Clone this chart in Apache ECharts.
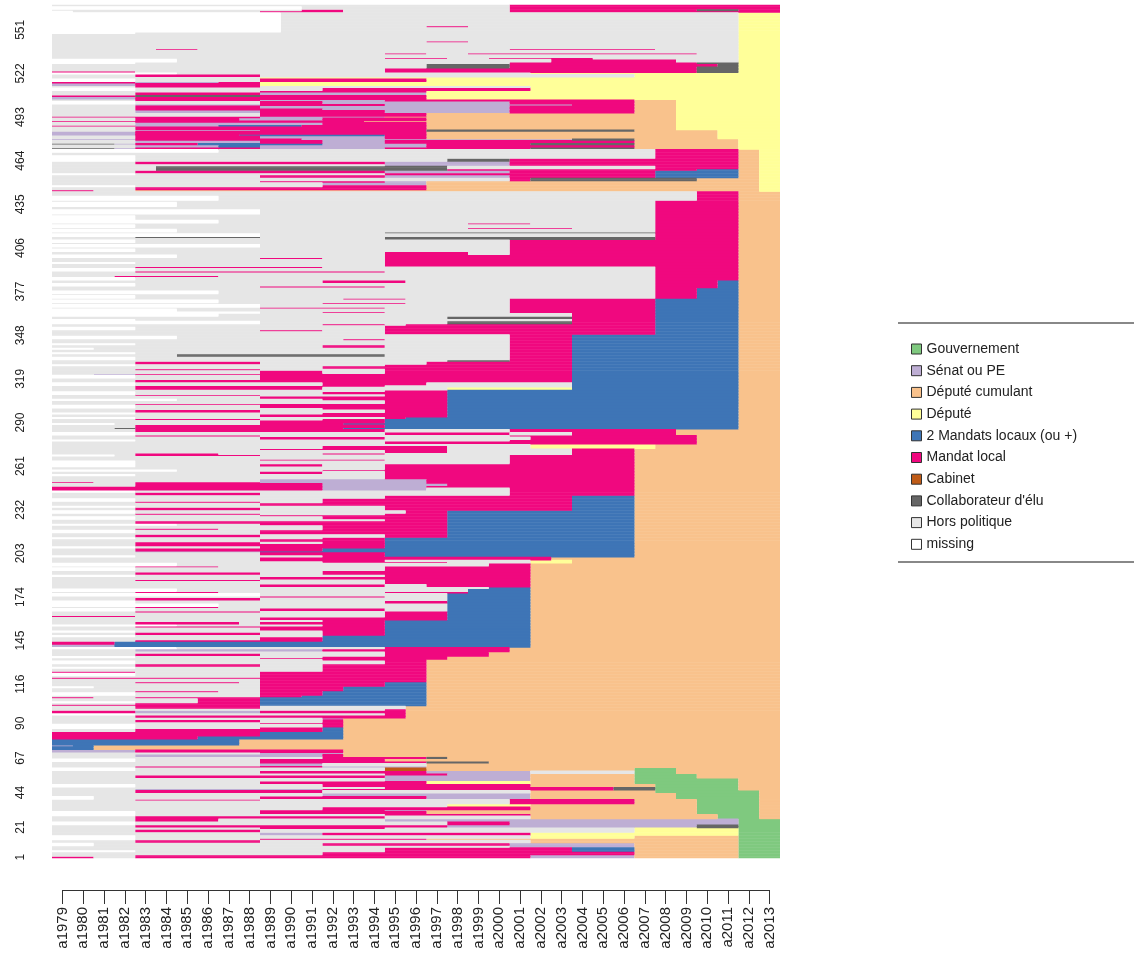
<!DOCTYPE html>
<html>
<head>
<meta charset="utf-8">
<script src="https://cdn.jsdelivr.net/npm/echarts@6/dist/echarts.min.js"></script>
<style>
html,body{margin:0;padding:0;background:#fff;}
#chart{width:1134px;height:977px;}
</style>
</head>
<body>
<div id="chart"></div>
<script>
// ---------------- DATA ----------------
const years = ['a1979','a1980','a1981','a1982','a1983','a1984','a1985','a1986','a1987','a1988','a1989','a1990','a1991','a1992','a1993','a1994','a1995','a1996','a1997','a1998','a1999','a2000','a2001','a2002','a2003','a2004','a2005','a2006','a2007','a2008','a2009','a2010','a2011','a2012','a2013'];
const stateCodes = ['G','S','C','D','B','M','K','E','H','x'];
const stateLabels = ['Gouvernement','Sénat ou PE','Député cumulant','Député','2 Mandats locaux (ou +)','Mandat local','Cabinet',"Collaborateur d'élu",'Hors politique','missing'];
const stateColors = ['#7FC97F','#BEAED4','#F9C28C','#FFFF99','#3E75B6','#F0087F','#BF5B17','#666666','#E6E6E6','#FFFFFF'];
const yTickLabels = [1,21,44,67,90,116,145,174,203,232,261,290,319,348,377,406,435,464,493,522,551];

// Each entry: "<number of sequences> <state><first year index> ..."
const seqGouvernement = [
"1 M0 H2 M4 S23 C28 G33","1 H0 M4 S23 C28 G33","2 H0 M13 C28 G33","1 x0 H4 M16 B25 C28 G33",
"2 H0 M16 B25 C28 G33","1 H0 S22 C28 G33","2 x0 H2 M13 S22 C28 G33","2 H0 M4 H10 C23 G33",
"1 x0 H4 M10 C18 G33","2 x0 H4 D23 C28 G33","2 H0 S10 M13 D23 G33","2 H0 M4 H10 D28 G33",
"1 H0 M10 H16 D28 G33","2 H0 M4 S19 E31 G33","2 x0 H4 M19 S22 G33","2 H0 M4 H8 S16 G33"
];
const seqCumulant = [
"2 H0 M4 H16 C23 G32 C34","1 x0 H4 M16 C23 G32 C34","2 x0 H4 M10 C18 G31 C34","1 H0 M10 S16 C18 G31 C34",
"2 H0 M13 C23 G31 C34","2 H0 D19 C23 G31 C34","2 H0 M22 C28 G31 C34","1 H0 M4 H10 M22 C28 G31 C34",
"2 x0 H2 M10 S18 C23 G30 C34","2 H0 S13 C23 G30 C34","2 H0 M4 H13 C23 G29 C34","1 H0 S4 M13 E27 G29 C33",
"1 H0 M16 E27 G29 C33","2 x0 H4 M13 C23 G29 C33","2 H0 M10 D18 C23 G28 C33","2 H0 S16 C23 G28 C33",
"2 H0 M4 S16 C23 G28 C31","1 H0 M16 S19 C23 G28 C31","2 H0 M10 S18 H23 G28 C30","2 x0 H4 K16 C18 G28 C30",
"1 H0 M4 S13 C18","2 H0 S10 H13 C18","1 H0 M10 E18 C21","2 x0 H4 M10 C16",
"1 H0 M13 E18 C19","2 H0 S4 M13 C14","1 H0 S10 C14","2 S0 M4 C14",
"2 B0 C2","1 S0 B1 C2","4 B0 C9","2 M0 B7 C14","3 M0 B10 C14",
"2 H0 M4 B13 C14","1 x0 H4 M10 B13 C14","2 x0 H4 M13 C14","1 H0 M10 C14",
"2 H0 M4 H10 M13 C14","1 H0 S13 C14","2 H0 M4 C17","1 x0 H4 M16 C17",
"2 M0 S4 M10 C17","1 H0 M16 C17","2 H0 M4 H10 C17",
"1 M0 B10 C18","1 H0 M4 B10 C18","1 x0 H4 M7 B10 C18","2 H0 M7 B10 C18",
"1 M0 H2 M4 B10 C18","1 H0 M10 B12 C18","2 x0 H4 M10 B13 C18","1 H0 M4 H8 M10 B13 C18",
"2 H0 M10 B14 C18","1 x0 H2 M10 B14 C18","2 H0 M10 B16 C18","1 H0 M4 H9 M10 B16 C18",
"2 H0 M10 C18","1 M0 C18","1 H0 M10 C18","2 x0 H4 M10 C18",
"1 M0 H4 M10 C18","2 H0 M13 C18","1 x0 H4 M13 C18","2 H0 M4 H10 M13 C18",
"2 x0 H4 M16 C18","1 H0 M13 C18",
"1 H0 M10 C19","1 x0 H4 M13 C19","2 H0 M4 H10 M16 C21","1 H0 M16 C21",
"2 H0 S4 M13 C22","1 x0 H6 M16 C22",
"2 S0 B3 C23","2 M0 B3 C23","1 H0 M4 B13 C23","2 H0 M10 B13 C23",
"1 x0 H4 B13 C23","2 H0 M4 H10 M13 B16 C23","1 x0 H4 M13 B16 C23","2 H0 M10 B16 C23",
"1 H0 M4 B16 C23","1 x0 H6 M13 B16 C23","2 H0 M4 H9 M10 B16 C23","1 H0 M13 B16 C23",
"2 H0 M10 B19 C23","1 M0 H4 M16 B19 C23","2 H0 M16 B19 C23","1 H0 M4 H10 M16 B19 C23",
"2 x0 H4 M10 H16 B19 C23","1 H0 M4 H8 B19 C23","2 x0 H8 B19 C23",
"2 x0 H4 M16 B19 C23","2 H0 M4 H10 B19 C23","1 H0 M10 H16 B19 C23","2 x0 H10 B19 C23",
"1 H0 M4 H8 M16 B20 C23","2 x0 H6 B20 C23","1 H0 B21 C23","2 H0 M10 H16 M18 C23",
"2 H0 M16 C23","1 H0 M4 H10 M16 C23","2 H0 M10 C23","1 x0 H4 M16 C23",
"2 H0 M4 H10 M13 C23","1 H0 M13 C23","2 x0 H4 M16 C23","1 H0 M4 H8 M16 C23",
"2 x0 H6 M21 C23",
"1 H0 M13 H19 D23 C25","1 H0 M10 H16 D23 C25","2 H0 M10 C24",
"1 x0 H4 M13 B16 C28","2 H0 M10 B16 C28","1 H0 S4 B10 C28","2 H0 M4 B13 C28",
"1 x0 H4 M10 B16 C28","2 H0 M4 B16 C28","1 H0 M4 H10 M13 B16 C28","2 H0 M10 B16 C28",
"1 x0 H4 M13 B16 C28",
"2 H0 M4 H10 M16 B19 C28","1 H0 M10 B19 C28","2 x0 H4 M10 B19 C28","1 H0 M4 H8 M13 B19 C28",
"2 H0 M13 B19 C28","1 x0 H6 M10 B19 C28","2 H0 M4 B19 C28","1 H0 M16 B19 C28",
"2 x0 H4 M13 B19 C28","1 H0 M10 B19 C28","1 H0 M4 H10 M16 B19 C28","2 x0 H4 M17 B19 C28",
"2 H0 M4 H10 M16 B25 C28","1 x0 H4 M16 B25 C28","2 H0 M10 B25 C28","1 H0 M4 H10 M13 B25 C28",
"2 x0 H4 M13 B25 C28","2 H0 M16 B25 C28",
"2 H0 M4 H10 M22 C28","1 x0 H4 M22 C28","2 M0 S13 H18 M22 C28","1 M0 S13 M18 C28",
"2 H0 M4 S13 M19 C28","1 M0 H2 M4 S10 M18 C28","2 H0 S10 M18 C28",
"2 H0 M16 C28","1 x0 H4 M16 C28","2 H0 M10 H13 M16 C28","1 x0 H6 M13 C28",
"2 H0 M16 C28","2 x0 H4 M10 H13 M16 C28",
"2 x0 H4 M22 C28","1 H0 M10 H16 M22 C28","2 H0 M22 C28","1 x0 H3 M4 H10 M22 C28",
"1 H0 M4 H8 M13 H16 M25 C28","2 H0 M16 H19 M25 C28","1 H0 M10 H19 M25 C28",
"2 H0 M13 H19 D23 C29","1 H0 D23 C29","2 H0 M16 C31","1 x0 H4 M22 C31",
"2 H0 M10 H16 M23 C31","1 H0 M4 H10 M22 C31","2 x0 H4 M16 H22 M25 C30","2 H0 M4 H16 M22 C30",
"1 H0 E3 M4 B14 C33","2 H0 M4 B16 C33","1 x0 H3 M10 B14 C33","2 H0 M10 B16 C33",
"1 H0 M4 H10 M13 B16 C33","1 x0 H4 M16 B17 C33","2 H0 M10 B19 C33","1 x0 H4 M13 B19 C33",
"2 H0 M4 H10 M16 B19 C33","1 H0 M13 B19 C33","2 x0 H4 M10 B19 C33","1 H0 M4 B19 C33",
"2 H0 M16 B19 C33","1 x0 H6 M13 B19 C33","2 H0 M10 B19 C33","1 H0 M4 H10 M16 B19 C33",
"2 x0 H4 M13 B19 C33","1 H0 M16 B19 C33",
"2 H0 M4 H13 D19 B25 C33","1 H0 M4 H16 B25 C33","2 x0 H4 M13 H18 B25 C33","2 H0 M4 B25 C33",
"1 H0 M10 B25 C33","2 x0 H4 M10 B25 C33","1 H0 S2 M4 B25 C33","2 H0 M10 H13 M16 B25 C33",
"1 H0 M4 H10 M16 B25 C33","2 H0 M13 B25 C33","1 x0 H4 M16 B25 C33","2 H0 M4 H10 M18 B25 C33",
"1 H0 E19 M22 B25 C33","2 x0 H4 M22 B25 C33","2 H0 E6 H16 M22 B25 C33","1 x0 H4 M22 B25 C33",
"2 H0 M22 B25 C33","1 x0 H2 M22 B25 C33","2 H0 M13 H16 M22 B25 C33","1 x0 H4 M22 B25 C33",
"2 H0 M22 B25 C33","1 H0 M14 H16 M22 B25 C33","2 x0 H6 M22 B25 C33","1 H0 M22 B25 C33",
"2 H0 M16 B29 C33","1 H0 M10 H13 M16 B29 C33","2 x0 H4 M16 B29 C33","1 H0 M16 B29 C33",
"1 H0 M13 H16 M17 B29 C33","2 x0 H10 E19 M25 B29 C33","1 x0 H4 M25 B29 C33","2 H0 E19 M25 B29 C33",
"2 x0 H8 M25 B29 C33","1 x0 H10 M13 H16 M22 B29 C33","2 x0 H6 M22 B29 C33","1 H0 M10 H16 M22 B29 C33",
"2 x0 H10 M22 B29 C33","1 H0 M13 H17 M22 B29 C33","2 x0 H8 M22 B29 C33","1 H0 M14 H17 M22 B29 C33",
"2 x0 H4 M29 B31 C33","1 H0 M29 B31 C33","2 x0 H8 M29 B31 C33","2 H0 M29 B31 C33",
"1 H0 M10 H16 M29 B32 C33","2 x0 H4 M29 B32 C33","2 H0 M13 H17 M29 B32 C33",
"2 x0 H4 M29 C33","1 H0 M3 H8 M29 C33","2 H0 M29 C33","1 H0 M4 H16 M29 C33",
"2 x0 H4 M29 C33","1 H0 M4 H13 M29 C33","2 H0 M16 C33","1 x0 H4 M16 C33",
"2 H0 M16 C33","1 H0 M10 H13 M16 C33","2 x0 H6 M16 C33","2 H0 M16 H20 M22 C33",
"2 x0 H4 M22 C33","1 H0 M22 C33","2 x0 H10 M22 C33","1 H0 M22 C33",
"2 x0 H4 M22 C33","1 H0 E16 M29 C33","1 H0 E4 H10 E16 M29 C33","2 x0 H10 M29 C33",
"1 H0 E16 M29 C33","2 x0 H6 M29 C33","1 H0 M20 H25 M29 C33","2 x0 H4 M29 C33",
"1 H0 M20 H23 M29 C33","2 x0 H8 M29 C33","3 x0 H4 M29 C33","1 H0 M29 C33",
"3 x0 H10 M29 C33","2 H0 M29 C33","3 x0 H6 M29 C33","1 H0 M29 C33",
"3 x0 H8 M31 C33","3 H0 M31 C33"
];
const seqDepute = [
"1 M0 H2 C4 D34","2 H0 M4 C18 D34","1 x0 H4 M13 C18 D34","2 H0 S13 C18 D34",
"1 H0 M10 S16 C18 D34","2 H0 M22 E23 C31 D34","2 H0 M10 S16 M22 B29 C33 D34","1 x0 H4 M16 B29 C33 D34",
"2 H0 M4 S16 M22 B29 C33 D34","1 H0 E5 M19 B31 C33 D34","2 H0 E5 H19 M29 C33 D34","1 H0 S16 M22 C33 D34",
"2 H0 M4 S16 M22 C33 D34","2 x0 H4 E19 M22 C33 D34","2 x0 H4 M29 C33 D34","2 H0 M29 C33 D34",
"2 x0 H8 M29 C33 D34",
"1 E0 S3 M4 S10 M16 E23 C28 D33","2 H0 S4 B8 S10 M18 C28 D33","1 E0 S3 M4 B7 S13 M18 E23 C28 D33","2 H0 S4 M10 S13 M16 C28 D33",
"1 S0 M4 S12 E25 C28 D33",
"2 H0 M4 S10 M16 C18 D32","1 S0 M4 B9 M16 C18 D32","2 S0 M4 C18 D32","1 H0 S4 M10 E18 C28 D32",
"2 H0 M4 C18 D30","1 M0 S4 B8 M12 C18 D30","2 H0 S4 M13 C18 D30","1 M0 C15 D30",
"2 H0 M4 S9 M13 C18 D30","1 M0 S10 C16 D30","2 H0 M10 C18 D30",
"2 H0 S4 M10 S16 M22 C28 D30","1 H0 M4 S13 M22 C28 D30","2 H0 M4 S10 M22 C28 D30","1 H0 S4 M10 S16 M25 C28 D30",
"2 x0 H4 M10 S13 M22 C28 D30","1 H0 M4 S10 M16 C28 D30",
"2 S0 M4 D18","1 M0 E4 M10 D18","2 H0 M4 S10 D18","1 H0 M10 D18",
"2 x0 H4 M13 D23","1 H0 M4 H10 D23","2 S0 M4 D10","1 M0 S4 M8 D10",
"2 x0 H4 M10 D18","1 H0 D10","2 H0 M4 H10 D28","1 x0 H6 D23",
"1 M0 H4 M16 E31 D33","2 H0 M16 E31 D33","1 H0 E18 M22 E31 D33","2 H0 E18 M22 E32 D33",
"1 x0 H4 M22 E31 D33","2 x0 H6 M24 H30 D33","1 H0 M16 H19 M21 H26 D33","2 H0 D33",
"1 H0 M16 H18 M20 H31 D33","2 H0 D33","1 H0 M5 H7 M22 H29 D33","4 H0 D33",
"1 H0 M18 H20 D33","5 H0 D33","1 x0 H4 D33","3 x0 H11 D33",
"1 x0 H11 M18 H20 D33","9 x0 H11 D33"
];
const seqAutres = [
"1 x0 H1 M10 H14 M22","1 H0 M12 H14 M22 E31 M33","2 x0 H12 M22","1 H0 M22"
];

// ---------------- BUILD ----------------
const allGroups = [].concat(seqGouvernement, seqCumulant, seqDepute, seqAutres);
const runsByState = stateCodes.map(() => []);
let row = 0;
allGroups.forEach(g => {
  const tok = g.trim().split(/\s+/);
  const n = parseInt(tok[0], 10);
  const segs = tok.slice(1).map(t => ({s: t[0], start: parseInt(t.slice(1), 10)}));
  for (let k = 0; k < n; k++) {
    segs.forEach((sg, j) => {
      const end = j + 1 < segs.length ? segs[j + 1].start : years.length;
      const si = stateCodes.indexOf(sg.s);
      if (end > sg.start) runsByState[si].push([sg.start, row, end - sg.start]);
    });
    row++;
  }
});
const nSeq = row;
const rowNames = [];
for (let i = 1; i <= nSeq; i++) rowNames.push(String(i));

const chart = echarts.init(document.getElementById('chart'), null, {renderer: 'canvas'});

const series = stateLabels.map((lab, si) => ({
  name: lab,
  type: 'custom',
  clip: false,
  itemStyle: {color: stateColors[si]},
  encode: {x: 0, y: 1},
  data: runsByState[si],
  renderItem: function (params, api) {
    const x0 = api.value(0), r = api.value(1), len = api.value(2);
    const p = api.coord([x0, r]);
    const s = api.size([1, 1]);
    return {
      type: 'rect',
      shape: {x: p[0] - s[0] / 2, y: p[1] - s[1] / 2 - 0.3, width: s[0] * len, height: s[1] + 0.6},
      style: {fill: stateColors[si], stroke: null}
    };
  }
}));

chart.setOption({
  animation: false,
  backgroundColor: '#ffffff',
  textStyle: {fontFamily: 'Liberation Sans, Arial, sans-serif'},
  grid: {left: 62.4, right: 1134 - 769.6, top: 5, bottom: 977 - 858},
  xAxis: {
    type: 'category', data: years, boundaryGap: false, offset: 32,
    axisLine: {show: true, lineStyle: {color: '#333', width: 1}},
    axisTick: {show: true, length: 14, interval: 0, lineStyle: {color: '#333', width: 1}},
    axisLabel: {interval: 0, rotate: 90, margin: 17, fontSize: 15, color: '#222'},
    splitLine: {show: false}
  },
  yAxis: {
    type: 'category', data: rowNames, boundaryGap: true,
    axisLine: {show: false}, axisTick: {show: false}, splitLine: {show: false},
    axisLabel: {
      interval: function (i) { return yTickLabels.indexOf(i + 1) >= 0; },
      rotate: 90, margin: 36, fontSize: 12, color: '#222'
    }
  },
  legend: {
    orient: 'vertical', left: 906, top: 337,
    itemWidth: 10, itemHeight: 10, itemGap: 7.7, icon: 'rect',
    selectedMode: false,
    itemStyle: {borderColor: '#333', borderWidth: 1},
    textStyle: {fontSize: 14, color: '#222', lineHeight: 14},
    data: stateLabels
  },
  graphic: [
    {type: 'line', shape: {x1: 898, y1: 323, x2: 1134, y2: 323}, style: {stroke: '#888', lineWidth: 2}},
    {type: 'line', shape: {x1: 898, y1: 562, x2: 1134, y2: 562}, style: {stroke: '#888', lineWidth: 2}}
  ],
  series: series
});
</script>
</body>
</html>
